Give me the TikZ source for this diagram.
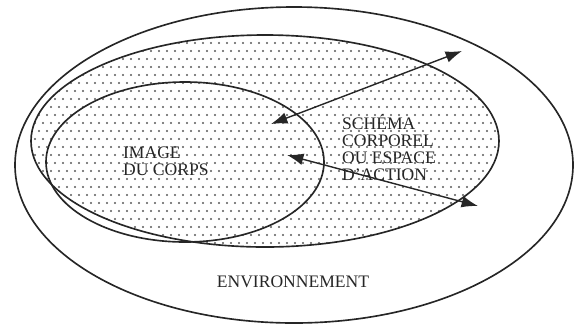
\documentclass[tikz,border=0pt]{standalone}
\usepackage{fontspec}
\setmainfont{Liberation Serif}
\usetikzlibrary{arrows.meta}

\begin{document}
\begin{tikzpicture}[x=0.3mm, y=-0.3mm,
                every node/.style={font=\fontsize{15}{14.5}\selectfont, text=black!85},
                zone/.style={draw=black!85, line width=1.4pt},
                fleche/.style={draw=black!85, line width=1.2pt, {Latex[length=14pt,width=10pt]}-{Latex[length=14pt,width=10pt]}}]

                \useasboundingbox (0,0) rectangle (574,325);

                % Define dots (schema corporel)
                \begin{scope}
                \clip (265,141) ellipse [x radius=234, y radius=106];
                \foreach \r in {0,...,27}
                  \foreach \c in {0,...,60} {
                    \pgfmathsetmacro{\px}{31+8*\c+4*mod(\r,2)}
                    \pgfmathsetmacro{\py}{35+8*\r}
                    \fill[black!65] (\px,\py) circle [radius=1.2];
                  }
                \end{scope}

                % Define zones
                \draw[zone] (294,165) ellipse [x radius=279, y radius=158]; % Environnement
                \draw[zone] (265,141) ellipse [x radius=234, y radius=106]; % Schema corporel
                \draw[zone] (185,162) ellipse [x radius=139, y radius=80];  % Image du corps

                % Define labels
                \node[anchor=west, align=left] (image) at (119,161) {IMAGE\\DU CORPS};
                \node[anchor=west, align=left] (schema) at (338,148) {SCHÉMA\\CORPOREL\\OU ESPACE\\D'ACTION};
                \node (env) at (293,282) {ENVIRONNEMENT};

                % Define arrow ends
                \coordinate (a1) at (271,124);
                \coordinate (b1) at (462,51);
                \coordinate (a2) at (287,155);
                \coordinate (b2) at (478,206);

                % Define arrows
                \path (a1) edge[fleche] (b1);
                \path (a2) edge[fleche] (b2);
\end{tikzpicture}
\end{document}
